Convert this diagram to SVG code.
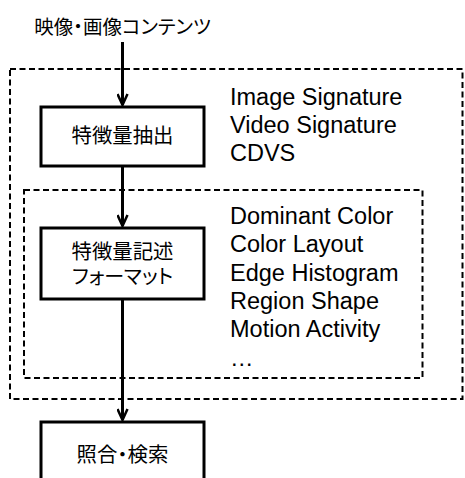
<svg xmlns="http://www.w3.org/2000/svg" width="465" height="478" viewBox="0 0 465 478">
<style>
.jp{font-family:"Liberation Sans","Noto Sans CJK JP",sans-serif;fill:#000;text-anchor:middle;dominant-baseline:central;font-feature-settings:"palt" 1}
.en{font-family:"Liberation Sans",Arial,sans-serif;font-size:23.5px;fill:#000}
.box{fill:#fff;stroke:#000;stroke-width:3}
.dash{fill:none;stroke:#000;stroke-width:2;stroke-dasharray:6 3.5}
.conn{stroke:#000;stroke-width:3;fill:none}
</style>
<defs>
<marker id="arr" viewBox="0 0 14 12" refX="12" refY="6" markerWidth="14" markerHeight="12" markerUnits="userSpaceOnUse" orient="auto">
<path d="M1,1 L12,6 L1,11" fill="none" stroke="#000" stroke-width="2.5"/>
</marker>
</defs>
<g id="groups">
<rect id="outer" class="dash" x="10" y="69" width="452.5" height="330"/>
<rect id="inner" class="dash" x="24" y="190" width="398.5" height="188"/>
</g>
<g id="connectors">
<line class="conn" x1="122.5" y1="42" x2="122.5" y2="105" marker-end="url(#arr)"/>
<line class="conn" x1="122.5" y1="166" x2="122.5" y2="226" marker-end="url(#arr)"/>
<line class="conn" x1="122.5" y1="299" x2="122.5" y2="420" marker-end="url(#arr)"/>
</g>
<g id="input">
<text class="jp" x="122.5" y="26.5" font-size="19.5">映像・画像コンテンツ</text>
</g>
<g id="extract">
<rect class="box" x="41" y="107" width="163" height="59"/>
<text class="jp" x="122.5" y="136" font-size="20.4">特徴量抽出</text>
</g>
<g id="format">
<rect class="box" x="41" y="228" width="163" height="71"/>
<text class="jp" x="122.5" y="252" font-size="20.4">特徴量記述</text>
<text class="jp" x="122.5" y="277" font-size="20">フォーマット</text>
</g>
<g id="match">
<rect class="box" x="41" y="422" width="163" height="70"/>
<text class="jp" x="122.5" y="455" font-size="20.4">照合・検索</text>
</g>
<g id="list1">
<text class="en" x="230" y="104.5">Image Signature</text>
<text class="en" x="230" y="132.8">Video Signature</text>
<text class="en" x="230" y="161">CDVS</text>
</g>
<g id="list2">
<text class="en" x="230" y="224">Dominant Color</text>
<text class="en" x="230" y="252.3">Color Layout</text>
<text class="en" x="230" y="280.6">Edge Histogram</text>
<text class="en" x="230" y="308.9">Region Shape</text>
<text class="en" x="230" y="337.2">Motion Activity</text>
<text class="en" x="230" y="365.5">…</text>
</g>
</svg>
